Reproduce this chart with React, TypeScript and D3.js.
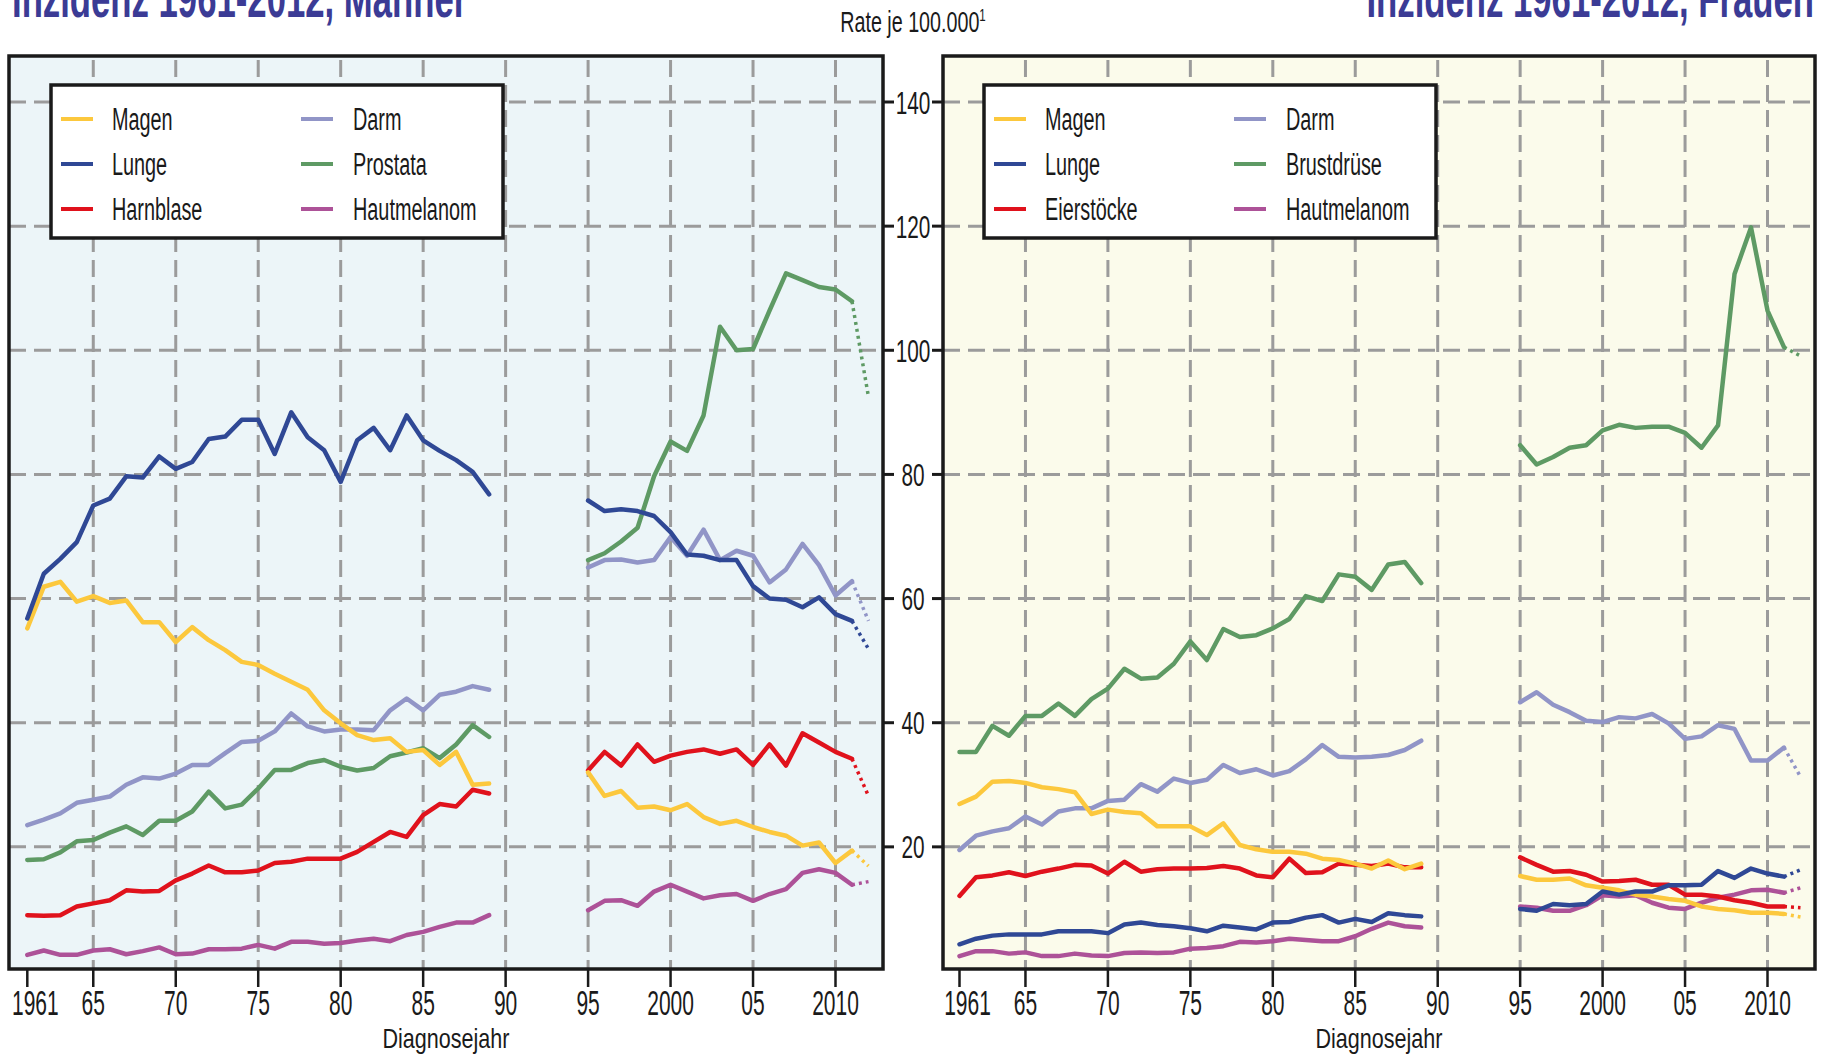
import React from 'react';
import * as d3 from 'd3';

// Diagnosejahre: DDR-Register 1961-1989, gemeinsames Register 1995-2012
const yearsEarly = d3.range(1961, 1990);
const yearsLate = d3.range(1995, 2013);

const xTickYears = [1961, 1965, 1970, 1975, 1980, 1985, 1990, 1995, 2000, 2005, 2010];
const xTickLabels = ['1961', '65', '70', '75', '80', '85', '90', '95', '2000', '05', '2010'];
const yTicks = [20, 40, 60, 80, 100, 120, 140];

// Männer, 1961-1989
const magenM1 = [55.2, 61.9, 62.7, 59.5, 60.4, 59.3, 59.7, 56.2, 56.2, 53.0, 55.4, 53.3, 51.7, 49.8, 49.3, 47.9, 46.6, 45.3, 42.0, 39.9, 38.0, 37.2, 37.5, 35.3, 35.6, 33.2, 35.3, 30.0, 30.2];
const lungeM1 = [56.8, 64.0, 66.4, 69.1, 75.0, 76.1, 79.7, 79.5, 82.9, 80.9, 82.0, 85.7, 86.1, 88.8, 88.8, 83.3, 90.0, 86.0, 83.9, 78.8, 85.5, 87.5, 83.9, 89.5, 85.5, 83.8, 82.3, 80.4, 76.8];
const harnblaseM1 = [9.0, 8.9, 9.0, 10.4, 10.9, 11.4, 13.0, 12.8, 12.9, 14.6, 15.7, 17.0, 15.9, 15.9, 16.2, 17.4, 17.6, 18.1, 18.1, 18.1, 19.2, 20.8, 22.4, 21.6, 25.1, 26.9, 26.5, 29.2, 28.6];
const darmM1 = [23.5, 24.4, 25.4, 27.1, 27.6, 28.1, 30.0, 31.2, 31.0, 31.8, 33.2, 33.2, 35.1, 36.9, 37.1, 38.6, 41.5, 39.4, 38.6, 38.9, 38.9, 38.8, 42.0, 43.9, 42.0, 44.5, 45.0, 45.9, 45.3];
const prostataM1 = [17.9, 18.0, 19.1, 20.9, 21.1, 22.3, 23.3, 21.9, 24.2, 24.2, 25.7, 28.9, 26.2, 26.8, 29.4, 32.4, 32.4, 33.5, 34.0, 32.9, 32.3, 32.7, 34.6, 35.2, 35.9, 34.3, 36.5, 39.6, 37.7];
const hautM1 = [2.6, 3.3, 2.6, 2.6, 3.3, 3.5, 2.7, 3.2, 3.8, 2.7, 2.8, 3.5, 3.5, 3.6, 4.2, 3.6, 4.7, 4.7, 4.4, 4.5, 4.9, 5.2, 4.8, 5.8, 6.3, 7.1, 7.8, 7.8, 9.0];

// Männer, 1995-2012
const magenM2 = [32.0, 28.2, 29.0, 26.3, 26.5, 25.9, 26.9, 24.8, 23.7, 24.2, 23.2, 22.4, 21.8, 20.2, 20.7, 17.4, 19.4, 16.9];
const lungeM2 = [75.8, 74.1, 74.4, 74.1, 73.3, 70.7, 67.1, 66.9, 66.2, 66.2, 62.0, 60.0, 59.8, 58.6, 60.2, 57.5, 56.4, 51.9];
const harnblaseM2 = [32.3, 35.3, 33.1, 36.5, 33.7, 34.7, 35.3, 35.7, 35.0, 35.7, 33.2, 36.5, 33.1, 38.3, 36.8, 35.3, 34.2, 28.2];
const darmM2 = [65.0, 66.2, 66.3, 65.8, 66.2, 69.9, 66.9, 71.1, 66.2, 67.7, 66.9, 62.6, 64.7, 68.8, 65.4, 60.5, 62.8, 56.4];
const prostataM2 = [66.2, 67.3, 69.2, 71.4, 79.7, 85.3, 83.8, 89.5, 103.8, 100.0, 100.2, 106.4, 112.4, 111.3, 110.2, 109.8, 107.9, 92.5];
const hautM2 = [9.8, 11.3, 11.4, 10.5, 12.8, 13.9, 12.8, 11.7, 12.2, 12.4, 11.3, 12.4, 13.2, 15.8, 16.4, 15.8, 13.9, 14.4];

// Frauen, 1961-1989
const magenF1 = [26.9, 28.1, 30.5, 30.6, 30.3, 29.6, 29.3, 28.8, 25.3, 26.0, 25.6, 25.4, 23.3, 23.3, 23.3, 21.9, 23.8, 20.3, 19.6, 19.2, 19.2, 18.9, 18.1, 17.9, 17.3, 16.5, 17.8, 16.4, 17.3];
const lungeF1 = [4.3, 5.2, 5.7, 5.9, 5.9, 5.9, 6.4, 6.4, 6.4, 6.1, 7.5, 7.8, 7.4, 7.2, 6.9, 6.4, 7.3, 7.0, 6.7, 7.8, 7.9, 8.6, 9.0, 7.8, 8.4, 7.9, 9.3, 9.0, 8.8];
const eierF1 = [12.1, 15.1, 15.4, 15.9, 15.3, 16.0, 16.5, 17.1, 17.0, 15.7, 17.6, 16.0, 16.4, 16.5, 16.5, 16.6, 16.9, 16.5, 15.4, 15.1, 18.1, 15.8, 15.9, 17.3, 17.1, 16.9, 17.3, 16.7, 16.7];
const darmF1 = [19.5, 21.8, 22.5, 23.0, 24.9, 23.6, 25.7, 26.2, 26.2, 27.4, 27.6, 30.1, 28.9, 31.0, 30.3, 30.8, 33.2, 31.9, 32.5, 31.5, 32.2, 34.1, 36.4, 34.5, 34.4, 34.5, 34.8, 35.6, 37.1];
const brustF1 = [35.3, 35.3, 39.5, 37.9, 41.1, 41.1, 43.1, 41.1, 43.8, 45.5, 48.7, 47.1, 47.3, 49.5, 53.1, 50.1, 55.1, 53.8, 54.1, 55.2, 56.7, 60.4, 59.6, 63.9, 63.5, 61.4, 65.5, 65.9, 62.5];
const hautF1 = [2.4, 3.2, 3.2, 2.8, 3.0, 2.4, 2.4, 2.8, 2.5, 2.4, 2.9, 3.0, 2.9, 3.0, 3.6, 3.7, 4.0, 4.7, 4.6, 4.8, 5.2, 5.0, 4.8, 4.8, 5.6, 6.8, 7.8, 7.2, 7.0];

// Frauen, 1995-2012
const magenF2 = [15.3, 14.7, 14.7, 14.9, 13.8, 13.4, 13.0, 12.3, 12.0, 11.6, 11.3, 10.4, 10.0, 9.8, 9.4, 9.4, 9.2, 8.7];
const lungeF2 = [10.0, 9.7, 10.8, 10.6, 10.8, 12.8, 12.3, 12.8, 12.8, 13.8, 13.8, 13.9, 16.1, 15.0, 16.5, 15.7, 15.2, 16.3];
const eierF2 = [18.3, 17.1, 16.0, 16.1, 15.5, 14.4, 14.5, 14.7, 13.9, 13.9, 12.3, 12.3, 12.0, 11.4, 11.0, 10.4, 10.4, 10.2];
const darmF2 = [43.3, 44.9, 42.9, 41.7, 40.3, 40.1, 40.9, 40.7, 41.4, 39.9, 37.4, 37.8, 39.6, 39.0, 33.9, 33.9, 36.0, 31.3];
const brustF2 = [84.7, 81.6, 82.8, 84.3, 84.7, 87.1, 88.0, 87.5, 87.7, 87.7, 86.7, 84.3, 87.9, 112.3, 119.8, 106.4, 100.5, 99.1];
const hautF2 = [10.4, 10.2, 9.7, 9.7, 10.6, 12.2, 12.0, 12.2, 11.0, 10.2, 10.0, 11.0, 11.8, 12.3, 13.0, 13.1, 12.6, 13.4];

const C = {
  magen: '#fcc83d',
  lunge: '#2f4895',
  rot: '#e0121c',
  darm: '#9195c7',
  gruen: '#5e9a64',
  haut: '#ad5298',
};

const FONT = "'Liberation Sans', Arial, Helvetica, sans-serif";
const GRID = '#9b9b9b';

type Series = { name: string; color: string; early: number[]; late: number[] };

const menSeries: Series[] = [
  { name: 'Magen', color: C.magen, early: magenM1, late: magenM2 },
  { name: 'Lunge', color: C.lunge, early: lungeM1, late: lungeM2 },
  { name: 'Harnblase', color: C.rot, early: harnblaseM1, late: harnblaseM2 },
  { name: 'Darm', color: C.darm, early: darmM1, late: darmM2 },
  { name: 'Prostata', color: C.gruen, early: prostataM1, late: prostataM2 },
  { name: 'Hautmelanom', color: C.haut, early: hautM1, late: hautM2 },
];

const womenSeries: Series[] = [
  { name: 'Magen', color: C.magen, early: magenF1, late: magenF2 },
  { name: 'Lunge', color: C.lunge, early: lungeF1, late: lungeF2 },
  { name: 'Eierstöcke', color: C.rot, early: eierF1, late: eierF2 },
  { name: 'Darm', color: C.darm, early: darmF1, late: darmF2 },
  { name: 'Brustdrüse', color: C.gruen, early: brustF1, late: brustF2 },
  { name: 'Hautmelanom', color: C.haut, early: hautF1, late: hautF2 },
];

const drawOrder = [5, 2, 4, 3, 0, 1];

const top = 56;
const bottom = 969;
const y = d3.scaleLinear().domain([0, 140]).range([971, 102]);

const Squeezed = ({ x, y: yy, sx, size, anchor = 'start', weight = 'normal', fill = '#1a1a1a', children }: any) => (
  <text
    transform={`translate(${x},${yy}) scale(${sx},1)`}
    fontSize={size}
    fontFamily={FONT}
    fontWeight={weight}
    textAnchor={anchor}
    fill={fill}
  >
    {children}
  </text>
);

function Panel({ x0, x1, px1961, px2010, bg, series, legendX }: any) {
  const x = d3.scaleLinear().domain([1961, 2010]).range([px1961, px2010]);
  const line = d3
    .line<[number, number]>()
    .x((d) => x(d[0]))
    .y((d) => y(d[1]));

  const legendCols = [series.slice(0, 3), series.slice(3, 6)];

  return (
    <g>
      <rect x={x0} y={top} width={x1 - x0} height={bottom - top} fill={bg} />
      {/* grid */}
      {yTicks.map((t) => (
        <line key={'h' + t} x1={x0} x2={x1} y1={y(t)} y2={y(t)} stroke={GRID} strokeWidth={3} strokeDasharray="17 8" />
      ))}
      {xTickYears.slice(1).map((yr) => (
        <line key={'v' + yr} x1={x(yr)} x2={x(yr)} y1={top} y2={bottom} stroke={GRID} strokeWidth={3} strokeDasharray="17 8" strokeDashoffset={-4} />
      ))}
      {/* series */}
      {drawOrder.map((i) => {
        const s: Series = series[i];
        const e = yearsEarly.map((yr, k) => [yr, s.early[k]] as [number, number]);
        const l = yearsLate.map((yr, k) => [yr, s.late[k]] as [number, number]);
        return (
          <g key={s.name} fill="none" stroke={s.color} strokeLinejoin="round" strokeLinecap="round">
            <path d={line(e) || ''} strokeWidth={4.5} />
            <path d={line(l.slice(0, l.length - 1)) || ''} strokeWidth={4.5} />
            <path d={line(l.slice(l.length - 2)) || ''} strokeWidth={3.5} strokeDasharray="3 4" strokeLinecap="butt" />
          </g>
        );
      })}
      {/* legend */}
      <rect x={legendX} y={85} width={452} height={153} fill="#fff" stroke="#1a1a1a" strokeWidth={3.5} />
      {legendCols.map((col: Series[], ci: number) =>
        col.map((s, ri) => {
          const cy = 119 + ri * 45;
          const lx = legendX + (ci === 0 ? 10 : 250);
          return (
            <g key={s.name}>
              <line x1={lx} x2={lx + 32} y1={cy} y2={cy} stroke={s.color} strokeWidth={4} />
              <Squeezed x={legendX + (ci === 0 ? 61 : 302)} y={cy + 11} sx={0.64} size={31}>
                {s.name}
              </Squeezed>
            </g>
          );
        })
      )}
      {/* frame */}
      <rect x={x0} y={top} width={x1 - x0} height={bottom - top} fill="none" stroke="#1a1a1a" strokeWidth={3.5} />
      {/* x axis */}
      {xTickYears.map((yr, i) => (
        <g key={'t' + yr}>
          <line x1={x(yr)} x2={x(yr)} y1={bottom} y2={987} stroke="#1a1a1a" strokeWidth={2.5} />
          <Squeezed x={x(yr) + (i === 0 ? 8 : 0)} y={1015} sx={0.6} size={35} anchor="middle">
            {xTickLabels[i]}
          </Squeezed>
        </g>
      ))}
      <Squeezed x={(x0 + x1) / 2} y={1048} sx={0.77} size={28} anchor="middle">
        Diagnosejahr
      </Squeezed>
    </g>
  );
}

export default function App() {
  const leftX1 = 883;
  const rightX0 = 943;
  const mid = (leftX1 + rightX0) / 2;
  return (
    <svg width={1822} height={1057} style={{ position: 'absolute', left: 0, top: 0, background: '#fff' }}>
      <rect width={1822} height={1057} fill="#fff" />
      <Panel x0={9} x1={leftX1} px1961={27.3} px2010={835.5} bg="#ecf5f8" series={menSeries} legendX={51} />
      <Panel x0={rightX0} x1={1815} px1961={959.5} px2010={1767.5} bg="#fbfbeb" series={womenSeries} legendX={984} />
      {/* shared y axis */}
      {yTicks.map((t) => (
        <g key={'y' + t}>
          <line x1={leftX1} x2={894} y1={y(t)} y2={y(t)} stroke="#1a1a1a" strokeWidth={3} />
          <line x1={932} x2={rightX0} y1={y(t)} y2={y(t)} stroke="#1a1a1a" strokeWidth={3} />
          <Squeezed x={mid} y={y(t) + 11.5} sx={0.65} size={32} anchor="middle">
            {String(t)}
          </Squeezed>
        </g>
      ))}
      <Squeezed x={mid} y={32} sx={0.68} size={29} anchor="middle">
        Rate je 100.000<tspan fontSize={17} dy={-11}>1</tspan>
      </Squeezed>
      <Squeezed x={12} y={17} sx={0.62} size={56} weight="bold" fill="#3b3b95">
        Inzidenz 1961-2012, Männer
      </Squeezed>
      <Squeezed x={1814} y={17} sx={0.62} size={56} weight="bold" fill="#3b3b95" anchor="end">
        Inzidenz 1961-2012, Frauen
      </Squeezed>
    </svg>
  );
}
